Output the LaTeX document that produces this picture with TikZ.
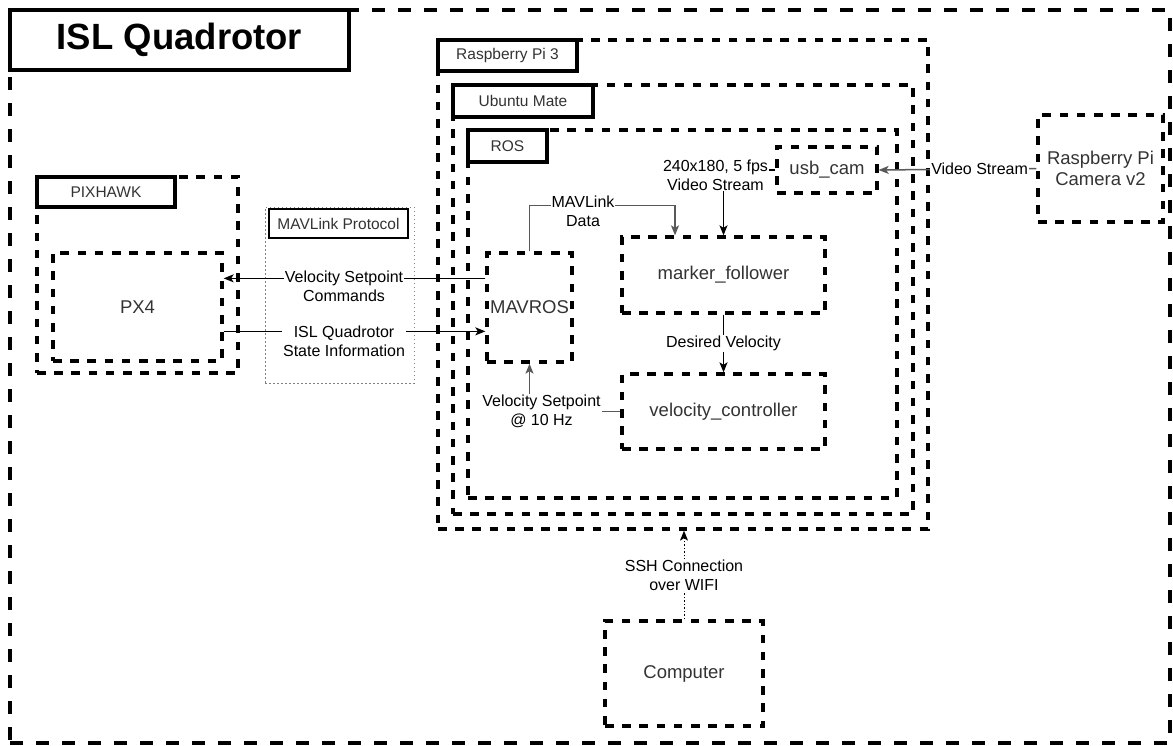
\documentclass[tikz,border=0pt]{standalone}
\usepackage{fontspec}
\setmainfont{Liberation Sans}
\usetikzlibrary{positioning, arrows.meta}

\tikzset{
  boxtext/.style={font=\fontsize{18.5}{21.5}\selectfont, text=black!80},
  dbox/.style={draw, line width=3.3pt, dash pattern=on 8.6pt off 8.6pt, inner sep=0pt, align=center, boxtext},
  tagbox/.style={draw, line width=3.3pt, fill=white, inner sep=0pt, anchor=north west, font=\fontsize{15.5}{18}\selectfont, text=black!80},
  lbl/.style={fill=white, inner sep=1pt, align=center, font=\fontsize{16}{19}\selectfont},
  flow/.style={->, line width=1.5pt},
  flowg/.style={flow, draw=black!65},
}

\begin{document}
\begin{tikzpicture}[x=1pt,y=-1pt,>={Stealth[length=10pt,width=8pt,inset=2.5pt]}]
  \useasboundingbox (0,0) rectangle (1173,745);
  % frame and title
  \node[draw, line width=4.8pt, dash pattern=on 13pt off 13pt, inner sep=0pt, minimum width=1160pt, minimum height=733pt] (quad) at (590,376.5) {};
  \node[draw, line width=4.6pt, fill=white, inner sep=0pt, minimum width=339pt, minimum height=60pt, font=\bfseries\fontsize{36.5}{40}\selectfont] (title) at (179.5,40) {ISL Quadrotor};

  % flight controller
  \node[dbox, minimum width=201pt, minimum height=196pt] (pixhawk) at (137.5,275) {};
  \node[tagbox, minimum width=138pt, minimum height=30pt] (pixtag) at (pixhawk.north west) {PIXHAWK};
  \node[dbox, minimum width=169pt, minimum height=108pt] (px4) at (137.5,307) {PX4};

  % protocol
  \node[draw=black!50, line width=1pt, dash pattern=on 1.5pt off 2.5pt, inner sep=0pt, minimum width=149pt, minimum height=176pt] (mavlink) at (339.5,295) {};
  \node[draw, line width=1.5pt, fill=white, inner sep=0pt, minimum width=139pt, minimum height=29pt, font=\fontsize{15.5}{18}\selectfont, text=black!80] (mavtag) at (338.5,223.5) {MAVLink Protocol};

  % onboard computer
  \node[dbox, minimum width=490pt, minimum height=489pt] (rpi) at (683,284.5) {};
  \node[tagbox, minimum width=139pt, minimum height=31pt] (rpitag) at (rpi.north west) {Raspberry Pi 3};
  \node[dbox, minimum width=460pt, minimum height=429pt] (ubuntu) at (683,299.5) {};
  \node[tagbox, minimum width=140pt, minimum height=32pt] (ubuntutag) at (ubuntu.north west) {Ubuntu Mate};
  \node[dbox, minimum width=429pt, minimum height=368pt] (ros) at (682.5,314) {};
  \node[tagbox, minimum width=79pt, minimum height=32pt] (rostag) at (ros.north west) {ROS};

  \node[dbox, minimum width=100pt, minimum height=46pt] (usbcam) at (827,170) {usb\_cam};
  \node[dbox, minimum width=85pt, minimum height=109pt] (mavros) at (529.5,307.5) {MAVROS};
  \node[dbox, minimum width=203pt, minimum height=76pt] (follower) at (723.5,275) {marker\_follower};
  \node[dbox, minimum width=203pt, minimum height=75pt] (velctrl) at (723.5,411.5) {velocity\_controller};

  \node[dbox, minimum width=125pt, minimum height=107pt] (camera) at (1100.5,168.5) {Raspberry Pi\\Camera v2};
  \node[dbox, minimum width=158pt, minimum height=105pt] (computer) at (684,673.5) {Computer};

  % connections
  \draw[flow] ([yshift=-27pt]mavros.north west) -- ([yshift=-27pt]mavros.north west -| px4.east)
    node[lbl, pos=0.54, yshift=-8pt] {Velocity Setpoint\\Commands};
  \draw[flow] ([yshift=-80pt]px4.north east) -- ([yshift=-80pt]px4.north east -| mavros.west)
    node[lbl, pos=0.46, yshift=-9.5pt] {ISL Quadrotor\\State Information};
  \draw[flowg] (camera.west) -- (usbcam.east) node[lbl, pos=0.36] {Video Stream};
  \draw[flow] (usbcam.west) -| (follower.north)
    node[lbl, pos=0.5, xshift=-8pt, yshift=-5pt] {240x180, 5 fps\\Video Stream};
  \draw[flowg] (mavros.north) |- ([xshift=-48.5pt,yshift=30pt]follower.north) -- ([xshift=-48.5pt]follower.north);
  \node[lbl] (mavdata) at (583,211) {MAVLink\\Data};
  \draw[flow] (follower.south) -- (velctrl.north) node[lbl, midway] {Desired Velocity};
  \draw[flowg] (velctrl.west) -| (mavros.south)
    node[lbl, pos=0.5, xshift=12pt] {Velocity Setpoint\\@ 10 Hz};
  \draw[flow, dotted, line width=1pt] (computer.north) -- (computer.north |- rpi.south)
    node[lbl, midway] {SSH Connection\\over WIFI};
\end{tikzpicture}
\end{document}
